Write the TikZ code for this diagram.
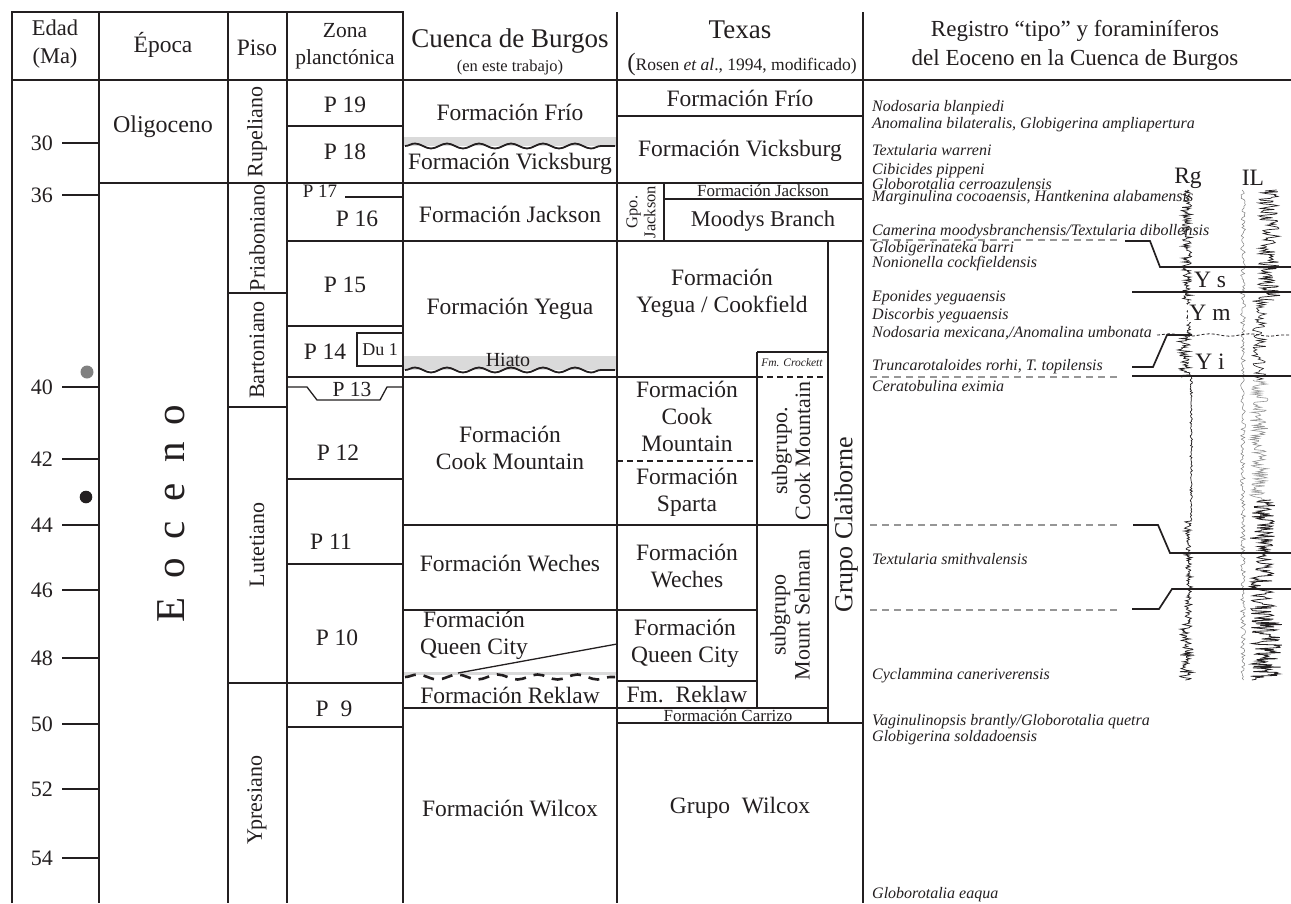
\documentclass[tikz,border=0pt]{standalone}
\usepackage{fontspec}
\setmainfont{Liberation Serif}
\usetikzlibrary{decorations.pathmorphing}
\newcommand{\fsz}[2]{\fontsize{#1}{#2}\selectfont}
\definecolor{ink}{RGB}{35,31,32}
\definecolor{band}{RGB}{218,218,218}
\definecolor{dgray}{RGB}{150,150,150}
\begin{document}
\begin{tikzpicture}[x=1pt,y=-1pt,
 ln/.style={draw=ink,line width=1.3pt},
 thk/.style={draw=ink,line width=2.8pt},
 wav/.style={draw=ink,line width=1.8pt,decorate,decoration={snake,amplitude=2.5pt,segment length=32pt}},
 gl/.style={draw=dgray,line width=1.1pt,dash pattern=on 7pt off 5pt},
 mk/.style={draw=ink,line width=1.7pt},
 tx/.style={inner sep=0pt,text=ink,align=center,font=\fsz{23.5}{27}},
 hd/.style={inner sep=0pt,text=ink,align=center,font=\fsz{22.5}{28}},
 sp/.style={inner sep=0pt,text=ink,anchor=west,font=\itshape\fsz{16}{17}},
 vt/.style={rotate=90}
]
\fill[white] (0,0) rectangle (1291,903);
\useasboundingbox (0,0) rectangle (1291,903);

% ---------- bands and unconformities
\fill[band] (403,137) rectangle (617,146);
\draw[wav] (405,146) -- (615,146);
\fill[band] (403,356) rectangle (617,370);
\draw[wav] (405,370) -- (615,370);
\fill[band] (403,672) rectangle (617,675);
\draw[draw=ink,line width=2.6pt,dash pattern=on 11pt off 8pt,decorate,decoration={snake,amplitude=2.5pt,segment length=40pt}] (405,677) -- (615,677);

% ---------- frame
\draw[thk] (12,903) -- (12,12) -- (403,12) -- (403,903);
\foreach \xx in {99,228,287,617,863} \draw[ln] (\xx,12) -- (\xx,903);
\draw[ln] (12,80) -- (1291,80);

% ---------- ages
\foreach \yy/\v in {143/30,195/36,387/40,459/42,525/44,590/46,658/48,724/50,789/52,858/54}{
  \draw[ln] (62,\yy) -- (99,\yy);
  \node[tx,anchor=east,font=\fsz{22}{24}] (age\v) at (53,\yy) {\v};
}
\fill[gray] (87,372) circle (6.5pt);
\fill[ink] (86,497) circle (6.3pt);

% ---------- horizontal boundaries
\draw[ln] (99,183) -- (863,183);
\draw[ln] (228,293) -- (287,293);
\draw[ln] (228,407) -- (287,407);
\draw[ln] (228,683) -- (403,683);
\draw[ln] (287,126) -- (403,126);
\draw[ln] (345,197) -- (403,197);
\draw[ln] (287,241) -- (863,241);
\draw[ln] (287,326) -- (403,326);
\draw[ln] (287,377) -- (757,377);
\draw[ln] (287,387) -- (307,387) -- (317,400) -- (380,400) -- (387,387) -- (403,387);
\draw[ln] (357,333) rectangle (403,366);
\draw[ln] (287,479) -- (403,479);
\draw[ln] (287,564) -- (403,564);
\draw[ln] (287,727) -- (403,727);
\draw[ln] (403,525) -- (828,525);
\draw[ln] (403,610) -- (757,610);
\draw[ln] (458,673) -- (617,644);
\draw[ln] (403,708) -- (828,708);

% Texas
\draw[ln] (617,116) -- (863,116);
\draw[ln] (664,183) -- (664,241);
\draw[ln] (664,199) -- (863,199);
\draw[ln] (757,352) -- (757,708);
\draw[ln] (757,352) -- (828,352);
\draw[ln,dash pattern=on 6pt off 4pt] (757,377) -- (828,377);
\draw[ln,dash pattern=on 6pt off 4pt] (617,461) -- (757,461);
\draw[ln] (617,681) -- (757,681);
\draw[ln] (617,723) -- (863,723);
\draw[ln] (828,241) -- (828,723);

% ---------- headers
\node[hd] (hedad) at (55,44) {Edad\\(Ma)};
\node[hd,font=\fsz{23.5}{28}] (hepoca) at (163,45) {Época};
\node[hd,font=\fsz{23.5}{28}] (hpiso) at (257,48) {Piso};
\node[hd,font=\fsz{21.5}{27}] (hzona) at (345,46) {Zona\\planctónica};
\node[hd,font=\fsz{27}{28}] (hcb) at (510,41) {Cuenca de Burgos};
\node[hd,font=\fsz{16.5}{18}] (hcb2) at (510,68) {(en este trabajo)};
\node[hd,font=\fsz{27}{28}] (htx) at (740,30) {Texas};
\node[hd,font=\fsz{17.5}{20}] (htx2) at (742,64) {{\fsz{25}{25}(}Rosen \textit{et al}., 1994, modificado)};
\node[hd,font=\fsz{23}{29}] (hreg) at (1075,45) {Registro “tipo” y foraminíferos\\del Eoceno en la Cuenca de Burgos};

% ---------- epoch / stage
\node[tx,font=\fsz{24}{26}] (oligo) at (163,127) {Oligoceno};
\foreach \yy/\l [count=\i] in {610/E,568/o,530/c,492/e,452/n,415/o}
  \node[inner sep=0pt,text=ink,font=\fsz{41}{41},vt,anchor=base] (eo\i) at (184,\yy) {\l};
\node[tx,vt,font=\fsz{22}{24}] (rup) at (257,132) {Rupeliano};
\node[tx,vt,font=\fsz{22}{24}] (pri) at (257,238) {Priaboniano};
\node[tx,vt,font=\fsz{22}{24}] (bar) at (257,350) {Bartoniano};
\node[tx,vt,font=\fsz{22}{24}] (lut) at (257,545) {Lutetiano};
\node[tx,vt,font=\fsz{22}{24}] (ypr) at (257,800) {Ypresiano};

% ---------- zones
\node[tx] (p19) at (345,105) {P 19};
\node[tx] (p18) at (345,152) {P 18};
\node[tx,font=\fsz{19}{20}] (p17) at (320,191) {P 17};
\node[tx] (p16) at (357,219) {P 16};
\node[tx] (p15) at (345,285) {P 15};
\node[tx] (p14) at (325,352) {P 14};
\node[tx,font=\fsz{18}{20}] (du1) at (380,350) {Du 1};
\node[tx,font=\fsz{21.5}{22}] (p13) at (352,389) {P 13};
\node[tx] (p12) at (338,453) {P 12};
\node[tx] (p11) at (331,542) {P 11};
\node[tx] (p10) at (337,638) {P 10};
\node[tx] (p9) at (334,709) {P\ \ 9};

% ---------- Cuenca de Burgos
\node[tx] (cfrio) at (510,112) {Formación Frío};
\node[tx] (cvick) at (510,164) {Formación Vicksburg};
\node[tx] (cjack) at (510,214) {Formación Jackson};
\node[tx] (cyeg) at (510,309) {Formación Yegua};
\node[tx,font=\fsz{20}{22}] (hiato) at (508,360) {Hiato};
\node[tx] (ccook) at (510,448) {Formación\\Cook Mountain};
\node[tx] (cwech) at (510,563) {Formación Weches};
\node[tx] (cqc) at (474,635) {Formación\\Queen City};
\node[tx] (crek) at (510,695) {Formación Reklaw};
\node[tx] (cwil) at (510,808) {Formación Wilcox};

% ---------- Texas
\node[tx] (tfrio) at (740,98) {Formación Frío};
\node[tx] (tvick) at (740,151) {Formación Vicksburg};
\node[tx,vt,font=\fsz{16.5}{18}] (gpoj) at (641,212) {Gpo.\\Jackson};
\node[tx,font=\fsz{17}{18}] (tjack) at (763,191) {Formación Jackson};
\node[tx,font=\fsz{22.5}{24}] (moody) at (763,221) {Moodys Branch};
\node[tx] (tyeg) at (722,293) {Formación\\Yegua / Cookfield};
\node[tx,font=\itshape\fsz{11.5}{12}] (crock) at (792,363) {Fm. Crockett};
\node[tx] (tcook) at (687,416) {Formación\\Cook\\Mountain};
\node[tx] (tspar) at (687,492) {Formación\\Sparta};
\node[tx,vt,font=\fsz{22}{23}] (sgcm) at (791,451) {subgrupo.\\Cook Mountain};
\node[tx] (twech) at (687,566) {Formación\\Weches};
\node[tx] (tqc) at (685,643) {Formación\\Queen City};
\node[tx] (trek) at (687,695) {Fm.\ \ Reklaw};
\node[tx,font=\fsz{17}{18}] (carr) at (728,716) {Formación Carrizo};
\node[tx,vt,font=\fsz{22}{24}] (sgms) at (790,615) {subgrupo\\Mount Selman};
\node[tx,vt,font=\fsz{26}{27}] (claib) at (846,525) {Grupo Claiborne};
\node[tx] (twil) at (740,808) {Grupo\ \ Wilcox};

% ---------- foraminifera
\node[sp] (s1) at (872,108) {Nodosaria blanpiedi};
\node[sp] (s2) at (872,125) {Anomalina bilateralis, Globigerina ampliapertura};
\node[sp] (s3) at (872,150) {Textularia warreni};
\node[sp] (s4) at (872,171) {Cibicides pippeni};
\node[sp] (s5) at (872,184) {Globorotalia cerroazulensis};
\node[sp] (s6) at (872,198) {Marginulina cocoaensis, Hantkenina alabamensis};
\node[sp] (s7) at (872,232) {Camerina moodysbranchensis/Textularia dibollensis};
\node[sp] (s8) at (872,249) {Globigerinateka barri};
\node[sp] (s9) at (872,264) {Nonionella cockfieldensis};
\node[sp] (s10) at (872,298) {Eponides yeguaensis};
\node[sp] (s11) at (872,316) {Discorbis yeguaensis};
\node[sp] (s12) at (872,333) {Nodosaria mexicana,/Anomalina umbonata};
\node[sp] (s13) at (872,367) {Truncarotaloides rorhi, T. topilensis};
\node[sp] (s14) at (872,386) {Ceratobulina eximia};
\node[sp] (s15) at (872,559) {Textularia smithvalensis};
\node[sp] (s16) at (872,676) {Cyclammina caneriverensis};
\node[sp] (s17) at (872,722) {Vaginulinopsis brantly/Globorotalia quetra};
\node[sp] (s18) at (872,738) {Globigerina soldadoensis};
\node[sp] (s19) at (872,895) {Globorotalia eaqua};

\foreach \yy in {240,377,525,610} \draw[gl] (870,\yy) -- (1120,\yy);

% ---------- well logs
\pgfmathsetseed{11}
\draw[ink,line width=0.7pt] plot[variable=\t,domain=190:300,samples=140] ({1191-9*rnd+1.2*rand},{\t});
\draw[ink,line width=0.7pt] plot[variable=\t,domain=300:335,samples=40] ({1191-4*rnd+rand},{\t});
\draw[ink,line width=0.7pt] plot[variable=\t,domain=335:377,samples=60] ({1191-13*rnd+1.5*rand},{\t});
\draw[ink,line width=0.7pt] plot[variable=\t,domain=377:520,samples=120] ({1192-1.5*rnd+0.8*rand},{\t});
\draw[ink,line width=0.7pt] plot[variable=\t,domain=520:620,samples=110] ({1191-5*rnd+2*rand},{\t});
\draw[ink,line width=0.7pt] plot[variable=\t,domain=620:680,samples=80] ({1191-9*rnd+3*rand},{\t});
\draw[gray,line width=0.5pt] plot[variable=\t,domain=190:680,samples=300] ({1243+2.5*rand},{\t});
\draw[ink,line width=0.7pt] plot[variable=\t,domain=190:300,samples=120] ({1258+22*rnd},{\t});
\draw[ink,line width=0.6pt] plot[variable=\t,domain=300:380,samples=70] ({1252+14*rnd},{\t});
\draw[dgray,line width=0.6pt] plot[variable=\t,domain=380:500,samples=120] ({1250+18*rnd},{\t});
\draw[ink,line width=0.8pt] plot[variable=\t,domain=500:620,samples=130] ({1250+25*rnd},{\t});
\draw[ink,line width=0.8pt] plot[variable=\t,domain=620:680,samples=80] ({1250+32*rnd},{\t});

% ---------- log markers
\coordinate (m1a) at (1125,241); \coordinate (m1b) at (1291,267);
\draw[mk] (m1a) -- (1150,241) -- (1160,267) -- (m1b);
\coordinate (m2a) at (1132,292); \coordinate (m2b) at (1291,292);
\draw[mk] (m2a) -- (m2b);
\coordinate (m3a) at (1132,367); \coordinate (m3b) at (1192,335);
\draw[mk] (m3a) -- (1153,367) -- (1167,335) -- (m3b);
\coordinate (m4a) at (1132,376); \coordinate (m4b) at (1291,376);
\draw[mk] (m4a) -- (m4b);
\coordinate (m5a) at (1133,525); \coordinate (m5b) at (1291,553);
\draw[mk] (m5a) -- (1158,525) -- (1170,553) -- (m5b);
\coordinate (m6a) at (1132,609); \coordinate (m6b) at (1291,589);
\draw[mk] (m6a) -- (1159,609) -- (1172,589) -- (m6b);
\coordinate (d1a) at (1157,335); \coordinate (d1b) at (1291,335);
\draw[ink,line width=0.8pt,dash pattern=on 3pt off 2pt,decorate,decoration={snake,amplitude=1.2pt,segment length=40pt}] (d1a) -- (d1b);

\node[tx,font=\fsz{23.5}{24}] (rg) at (1188,178) {Rg};
\node[tx,font=\fsz{23.5}{24}] (il) at (1253,178) {IL};
\node[tx,fill=white,inner sep=1pt] (ys) at (1210,280) {Y s};
\node[tx,fill=white,inner sep=1pt] (ym) at (1210,313) {Y m};
\node[tx,fill=white,inner sep=1pt] (yi) at (1210,362) {Y i};
\end{tikzpicture}
\end{document}
